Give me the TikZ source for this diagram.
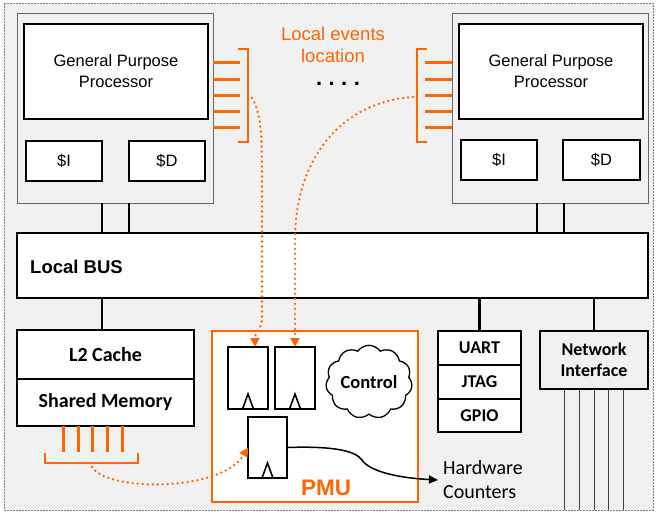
\documentclass[tikz,border=0pt]{standalone}
\usepackage{fontspec}
\setmainfont{Liberation Sans}
\newfontfamily\calibri{Carlito}
\usetikzlibrary{shapes.symbols,arrows.meta,calc}
\definecolor{org}{RGB}{255,102,0}
\definecolor{bgc}{RGB}{241,241,241}
\newcommand{\fsz}[2]{\fontsize{#1}{#2}\selectfont}
\begin{document}
\begin{tikzpicture}[x=1pt,y=-1pt,
  nw/.style={anchor=north west, inner sep=0pt, outer sep=0pt, align=center},
  procbox/.style={nw, draw=gray!80!black, line width=0.8pt, fill=bgc},
  thickbox/.style={nw, draw, line width=1.6pt, fill=white},
  medbox/.style={nw, draw, line width=1.3pt, fill=white},
  arialtxt/.style={font=\fsz{16.5}{21}},
  calbold/.style={font=\calibri\bfseries\fsz{20}{24}},
  calbolds/.style={font=\calibri\bfseries\fsz{18}{21}},
  busline/.style={line width=2.5pt},
  evline/.style={draw=org, line width=3pt},
  bracket/.style={draw=org, line width=1.6pt},
  dotarrow/.style={draw=org, line width=2.6pt, dash pattern=on 0pt off 5pt, line cap=round, -{Triangle[length=9pt,width=9pt]}},
  ffbox/.style={nw, draw, line width=1.6pt, fill=white, minimum width=40, minimum height=62},
  clk/.style={line width=1.6pt, line join=miter},
  netline/.style={draw=black!75, line width=0.8pt}
]
\useasboundingbox (0,0) rectangle (656,513);
% background frame
\draw[draw=gray, fill=bgc, line width=0.8pt, dash pattern=on 2pt off 1pt] (4,3) rectangle (653,510);

% left processor
\node[procbox, minimum width=196, minimum height=190] (proc1) at (17,13) {};
\node[thickbox, arialtxt, minimum width=184, minimum height=95] (gpp1) at (24,24) {General Purpose\\Processor};
\node[thickbox, arialtxt, minimum width=76, minimum height=40] (i1) at (26,141) {\$I};
\node[thickbox, arialtxt, minimum width=76, minimum height=40] (d1) at (129,141) {\$D};

% right processor
\node[procbox, minimum width=196, minimum height=190] (proc2) at (452,13) {};
\node[thickbox, arialtxt, minimum width=184, minimum height=95] (gpp2) at (459,24) {General Purpose\\Processor};
\node[thickbox, arialtxt, minimum width=76, minimum height=40] (i2) at (461,140) {\$I};
\node[thickbox, arialtxt, minimum width=77, minimum height=40] (d2) at (563,140) {\$D};

% bus
\node[nw, draw, line width=1.6pt, fill=white, minimum width=631, minimum height=65] (bus) at (17,233) {};
\node[anchor=west, inner sep=0pt, font=\bfseries\fsz{18.5}{22}] (bustxt) at ([xshift=13,yshift=-1]bus.west) {Local BUS};

% processor to bus
\draw[busline] ([xshift=85]proc1.south west) -- ([xshift=85]proc1.south west |- bus.north);
\draw[busline] ([xshift=112]proc1.south west) -- ([xshift=112]proc1.south west |- bus.north);
\draw[busline] ([xshift=85]proc2.south west) -- ([xshift=85]proc2.south west |- bus.north);
\draw[busline] ([xshift=112]proc2.south west) -- ([xshift=112]proc2.south west |- bus.north);

% local events label
\node[text=org, font=\fsz{18.5}{22}, align=center] (evtxt) at (333,45) {Local events\\location};
\node[font=\bfseries\fsz{22}{24}] (dots) at (338,84) {.\hspace{6.5pt}.\hspace{6.5pt}.\hspace{6.5pt}.};

% event lines
\foreach \yy in {63,80,96,112,128} {
  \draw[evline] (proc1.east |- 0,\yy) -- ++(27,0);
  \draw[evline] (proc2.west |- 0,\yy) -- ++(-27,0);
}
\draw[bracket] (238,49) -- (248,49) -- (248,142) -- (238,142);
\draw[bracket] (427,49) -- (417,49) -- (417,142) -- (427,142);
\coordinate (ev1) at (252,98);
\coordinate (ev2) at (413,97);

% L2 / shared memory
\node[medbox, calbold, minimum width=177, minimum height=49] (l2) at (17,330) {L2 Cache};
\node[medbox, calbold, minimum width=177, minimum height=47] (shm) at (17,379) {Shared Memory};
\draw[busline] ([xshift=85]l2.north west |- bus.south) -- ([xshift=85]l2.north west);
\foreach \xx in {46,61,75,90,105} {
  \draw[evline] ([xshift=\xx]shm.south west) -- ++(0,26);
}
\draw[bracket] (45,453) -- (45,463) -- (138,463) -- (138,453);
\coordinate (ev3) at (92,467);

% PMU
\node[nw, draw=org, line width=2pt, fill=white, minimum width=206, minimum height=171] (pmu) at (212,331) {};
\node[text=org, font=\bfseries\fsz{22.5}{24}] (pmutxt) at (326,488) {PMU};
\node[ffbox] (ff1) at (228,347) {};
\node[ffbox] (ff2) at (275,347) {};
\node[ffbox, minimum width=39, minimum height=61] (ff3) at (248,417) {};
\foreach \f in {ff1,ff2,ff3} {
  \draw[clk] ([xshift=-5.5]\f.south) -- ([yshift=15]\f.south) -- ([xshift=5.5]\f.south);
}
\node[cloud, draw, line width=1.3pt, fill=white, cloud puffs=11, cloud puff arc=110, aspect=1.25, minimum width=80, minimum height=64, inner sep=0pt, font=\calibri\bfseries\fsz{18.5}{20}] (ctrl) at (369,382) {Control};

% dotted arrows
\draw[dotarrow] (ev1) .. controls (262,115) and (262,140) .. (262,180) -- (262,318) .. controls (262,330) and (255,330) .. ([xshift=7]ff1.north);
\draw[dotarrow] (ev2) .. controls (340,102) and (295,160) .. (295,240) -- (ff2.north);
\draw[dotarrow] (ev3) .. controls (107,492) and (222,492) .. (ff3.west);

% UART / JTAG / GPIO
\node[medbox, calbolds, minimum width=83, minimum height=34] (uart) at (438,331) {UART};
\node[medbox, calbolds, minimum width=83, minimum height=34] (jtag) at (438,365) {JTAG};
\node[medbox, calbolds, minimum width=83, minimum height=33] (gpio) at (438,399) {GPIO};
\draw[busline] (uart.north |- bus.south) -- (uart.north);

% network interface
\node[nw, draw, line width=2pt, fill=bgc, calbolds, minimum width=108, minimum height=58] (ni) at (540,331) {Network\\Interface};
\draw[busline] (ni.north |- bus.south) -- (ni.north);
\foreach \xx in {24,39,54,68,83} {
  \draw[netline] ([xshift=\xx]ni.south west) -- ([xshift=\xx]ni.south west |- 0,510);
}

% hardware counters
\node[anchor=west, inner sep=0pt, align=left, font=\calibri\fsz{20}{24}] (hw) at (443,480) {Hardware\\Counters};
\draw[line width=1.5pt, -{Triangle[length=9pt,width=8pt]}] (ff3.east) .. controls (330,446) and (355,450) .. (362,460) .. controls (370,472) and (400,478) .. ([xshift=-5]hw.west);
\end{tikzpicture}
\end{document}
